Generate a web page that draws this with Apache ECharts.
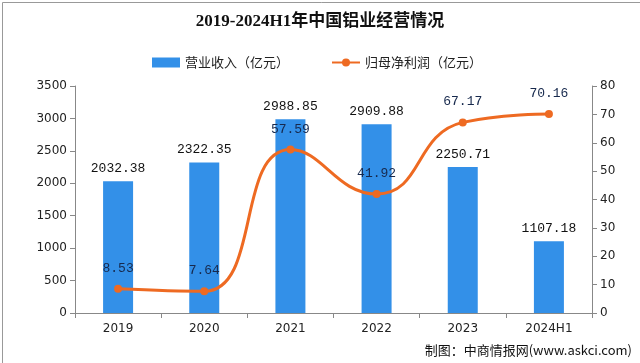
<!DOCTYPE html>
<html><head><meta charset="utf-8">
<script src="https://cdn.jsdelivr.net/npm/echarts@6/dist/echarts.min.js"></script>
<style>html,body{margin:0;padding:0;background:#fff}#c{width:640px;height:363px}</style>
</head><body><div id="c"></div>
<script>
const categories = ['2019','2020','2021','2022','2023','2024H1'];
const revenue = [2032.38, 2322.35, 2988.85, 2909.88, 2250.71, 1107.18];
const profit = [8.53, 7.64, 57.59, 41.92, 67.17, 70.16];
const leftTicks = [0, 3500, 500];
const rightTicks = [0, 80, 10];

const chart = echarts.init(document.getElementById('c'));
const numFont = '"Liberation Mono", "DejaVu Sans Mono", monospace';
chart.setOption({
  animation: false,
  backgroundColor: '#fff',
  title: {
    text: '2019-2024H1年中国铝业经营情况',
    left: 'center', top: 8,
    textStyle: {fontSize: 17, fontWeight: 'bold', color: '#111', fontFamily: '"Liberation Serif", "Noto Sans CJK SC", serif'}
  },
  legend: {
    top: 51, left: 147, itemGap: 42, itemWidth: 28, itemHeight: 10,
    textStyle: {fontSize: 13, color: '#222', fontFamily: '"Noto Sans CJK SC", sans-serif'},
    data: [{name: '营业收入（亿元）', icon: 'rect'}, {name: '归母净利润（亿元）'}]
  },
  grid: {left: 75, right: 48, top: 86, bottom: 50, containLabel: false},
  xAxis: {
    type: 'category', data: categories,
    axisLine: {lineStyle: {color: '#888'}},
    axisTick: {show: true, alignWithLabel: false, lineStyle: {color: '#888'}},
    axisLabel: {color: '#222', fontSize: 12, margin: 10, fontFamily: '"DejaVu Sans", sans-serif'}
  },
  yAxis: [{
    type: 'value', min: leftTicks[0], max: leftTicks[1], interval: leftTicks[2],
    axisLine: {show: true, lineStyle: {color: '#888'}},
    axisTick: {show: true, lineStyle: {color: '#888'}},
    splitLine: {show: false},
    axisLabel: {color: '#222', fontSize: 12, fontFamily: '"DejaVu Sans", sans-serif', formatter: v => String(v)}
  }, {
    type: 'value', min: rightTicks[0], max: rightTicks[1], interval: rightTicks[2],
    position: 'right',
    axisLine: {show: true, lineStyle: {color: '#888'}},
    axisTick: {show: true, lineStyle: {color: '#888'}},
    splitLine: {show: false},
    axisLabel: {color: '#222', fontSize: 12, fontFamily: '"DejaVu Sans", sans-serif', formatter: v => String(v)}
  }],
  series: [{
    name: '营业收入（亿元）', type: 'bar', data: revenue, barWidth: 30,
    itemStyle: {color: '#3390E8'},
    label: {show: true, position: 'top', color: '#111', fontSize: 13, fontFamily: numFont, distance: 6}
  }, {
    name: '归母净利润（亿元）', type: 'line', yAxisIndex: 1, data: profit,
    smooth: 0.5, symbol: 'circle', symbolSize: 8,
    lineStyle: {color: '#EE6A22', width: 3},
    itemStyle: {color: '#EE6A22'},
    label: {show: true, position: 'top', color: '#17294d', fontSize: 13, fontFamily: numFont, distance: 10}
  }],
  graphic: [{
    type: 'text', right: 8, bottom: 6,
    style: {text: '制图：中商情报网(www.askci.com)', fill: '#111', font: '13px "Noto Sans CJK SC", sans-serif'}
  }, {
    type: 'rect', left: 0, top: 0, shape: {x: 0.5, y: 0.5, width: 639, height: 362},
    style: {fill: 'none', stroke: '#999', lineWidth: 1}, silent: true
  }]
});
</script></body></html>
